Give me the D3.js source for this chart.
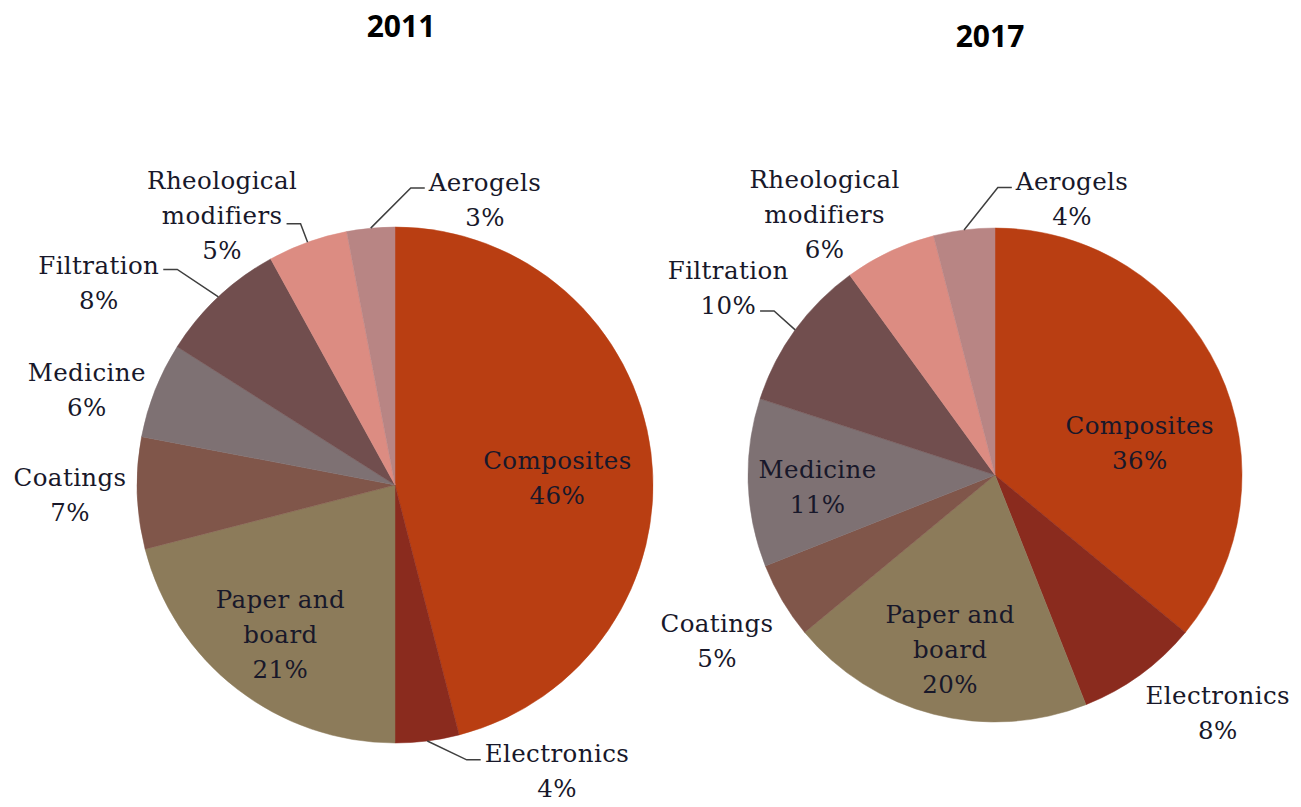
<html>
<head>
    <style>
        body { margin: 0; background: #fff; }
        .title { font-family: "Open Sans", "Liberation Sans", sans-serif; font-weight: bold; font-size: 30px; fill: #000; }
        .lbl { font-family: "DejaVu Serif", serif; font-size: 24.5px; letter-spacing: 0.4px; fill: #18182a; }
        .leader { fill: none; stroke: #3f3f3f; stroke-width: 1.5px; }
    </style>
</head>
<body>
    <script src="https://d3js.org/d3.v7.min.js"></script>
    <script>
        var width = 1301, height = 807;

        // data
        var categories = ["Composites", "Electronics", "Paper and board", "Coatings", "Medicine", "Filtration", "Rheological modifiers", "Aerogels"];
        var labelLines = [["Composites"], ["Electronics"], ["Paper and", "board"], ["Coatings"], ["Medicine"], ["Filtration"], ["Rheological", "modifiers"], ["Aerogels"]];
        var share2011 = [46, 4, 21, 7, 6, 8, 5, 3];
        var share2017 = [36, 8, 20, 5, 11, 10, 6, 4];
        var colors = ["#b93e12", "#8a2b1e", "#8c7b5a", "#80564a", "#7e7173", "#714e4e", "#dc8c82", "#b88584"];

        // label layout: [angle in degrees clockwise from top, distance in radii]
        var labelAt2011 = [[87.5, 0.63], [150.5, 1.275], [217.5, 0.73], [268.2, 1.26], [287.1, 1.25], [304.3, 1.39], [327.3, 1.24], [17.5, 1.16]];
        var labelAt2017 = [[77.6, 0.60], [136.9, 1.32], [194.4, 0.73], [239.2, 1.31], [266.1, 0.72], [305.1, 1.32], [326.8, 1.26], [15.6, 1.16]];
        // leader lines: slice index -> [text line, side, y shift]
        var leaders2011 = { 1: [0, "left", 6], 5: [0, "right", 4], 6: [1, "right", 8], 7: [0, "left", 6] };
        var leaders2017 = { 5: [1, "right", 6], 7: [0, "left", 6] };

        var svg = d3.select("body").append("svg")
            .attr("width", width)
            .attr("height", height);

        var lineH = 35;

        function drawPie(title, values, cx, cy, r, titleX, titleY, labelAt, leaders) {
            svg.append("text").attr("class", "title")
                .attr("x", titleX).attr("y", titleY)
                .attr("text-anchor", "middle")
                .text(title);

            var data = categories.map(function (c, i) {
                return { name: c, lines: labelLines[i], value: values[i], color: colors[i], i: i };
            });

            var pie = d3.pie().sort(null).value(function (d) { return d.value; });
            var arc = d3.arc().innerRadius(0).outerRadius(r);
            var arcs = pie(data);

            var g = svg.append("g").attr("transform", "translate(" + cx + "," + cy + ")");

            g.selectAll("path.slice")
                .data(arcs)
                .enter().append("path")
                .attr("class", "slice")
                .attr("d", arc)
                .attr("fill", function (d) { return d.data.color; })
                .attr("stroke", function (d) { return d.data.color; })
                .attr("stroke-width", 0.5);

            arcs.forEach(function (a) {
                var pos = labelAt[a.data.i];
                var ang = pos[0] * Math.PI / 180, dist = pos[1] * r;
                var lx = dist * Math.sin(ang), ly = -dist * Math.cos(ang);
                var lines = a.data.lines.concat([a.data.value + "%"]);
                var n = lines.length;

                var t = g.append("text").attr("class", "lbl")
                    .attr("text-anchor", "middle");
                var spans = lines.map(function (s, k) {
                    return t.append("tspan")
                        .attr("x", lx)
                        .attr("y", ly + (k - (n - 1) / 2) * lineH)
                        .attr("dy", "0.35em")
                        .text(s);
                });

                var ld = leaders[a.data.i];
                if (ld) {
                    var sp = spans[ld[0]].node();
                    var len = sp.getComputedTextLength();
                    var yy = ly + (ld[0] - (n - 1) / 2) * lineH + ld[2];
                    var mid = (a.startAngle + a.endAngle) / 2;
                    var px = r * Math.sin(mid), py = -r * Math.cos(mid);
                    var ex, bx;
                    if (ld[1] === "left") {
                        ex = lx - len / 2 - 4; bx = ex - 14;
                    } else {
                        ex = lx + len / 2 + 4; bx = ex + 14;
                    }
                    g.append("path").attr("class", "leader")
                        .attr("d", d3.line()([[ex, yy], [bx, yy], [px, py]]));
                }
            });
        }

        drawPie("2011", share2011, 395, 485, 258, 401, 37, labelAt2011, leaders2011);
        drawPie("2017", share2017, 995, 475, 247, 990, 47, labelAt2017, leaders2017);
    </script>
</body>
</html>
